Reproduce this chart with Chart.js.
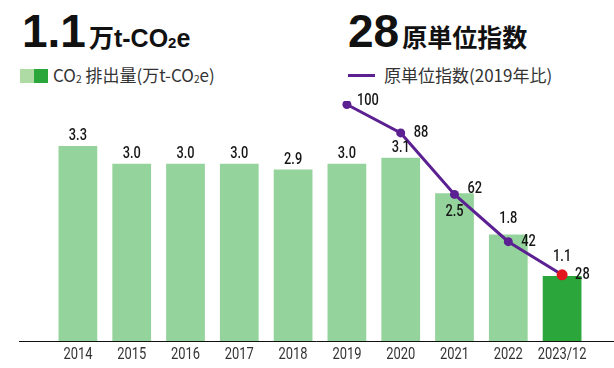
<!DOCTYPE html>
<html lang="ja">
<head>
<meta charset="utf-8">
<script src="https://cdn.jsdelivr.net/npm/chart.js"></script>
<style>
  body { margin: 0; background: #fff; font-family: 'Liberation Sans', 'Noto Sans CJK JP', sans-serif; }
  #wrap { position: relative; width: 614px; height: 368px; overflow: hidden; }
  #chartBox { position: absolute; left: 0; top: 0; width: 614px; height: 368px; }
  .head { position: absolute; top: 4px; font-weight: bold; color: #111; white-space: nowrap; }
  .head .num { font-size: 46px; margin-right: 3px; }
  .head .unit { font-size: 25px; }
  .legend { position: absolute; top: 62px; font-size: 17px; color: #333; white-space: nowrap; font-family: 'Noto Sans CJK JP', sans-serif; }
  .sw { display: inline-block; width: 14px; height: 14px; vertical-align: -1px; }
  .ln { display: inline-block; width: 27px; height: 3px; background: #5b2091; vertical-align: 5px; margin-right: 9px; }
  sub { font-size: 0.6em; vertical-align: -0.05em; }
</style>
</head>
<body>
<div id="wrap">
  <div class="head" style="left:22px"><span class="num">1.1</span><span class="unit">万t-CO<sub>2</sub>e</span></div>
  <div class="head" style="left:348px"><span class="num">28</span><span class="unit">原単位指数</span></div>
  <div class="legend" style="left:20px"><span class="sw" style="background:#aedaa4"></span><span class="sw" style="background:#2aa63a;margin-right:5px"></span>CO<sub>2</sub> 排出量(万t-CO<sub>2</sub>e)</div>
  <div class="legend" style="left:348px"><span class="ln"></span>原単位指数(2019年比)</div>
  <div id="chartBox"><canvas id="chart"></canvas></div>
</div>
<script>
const years = ['2014', '2015', '2016', '2017', '2018', '2019', '2020', '2021', '2022', '2023/12'];
const emissions = [3.3, 3.0, 3.0, 3.0, 2.9, 3.0, 3.1, 2.5, 1.8, 1.1];
const intensity = [null, null, null, null, null, 100, 88, 62, 42, 28];

const LIGHT = '#95d39c';
const DARK = '#2aa63a';
const PURPLE = '#5b2091';
const RED = '#e3161f';

// narrow digits: Roboto squeezed horizontally
function narrowText(ctx, text, x, y, font, sx, align) {
  ctx.save();
  ctx.font = font + ' Roboto, sans-serif';
  ctx.textBaseline = 'middle';
  ctx.textAlign = align;
  ctx.translate(x, y);
  ctx.scale(sx, 1);
  ctx.fillText(text, 0, 0);
  ctx.restore();
}

// baseline line under the bars, running past the plot area on both sides
const baseLine = {
  id: 'baseLine',
  afterDatasetsDraw(chart) {
    const { ctx, chartArea } = chart;
    ctx.save();
    ctx.strokeStyle = '#111';
    ctx.lineWidth = 1;
    ctx.beginPath();
    ctx.moveTo(19, Math.round(chartArea.bottom) + 0.5);
    ctx.lineTo(chart.width, Math.round(chartArea.bottom) + 0.5);
    ctx.stroke();
    ctx.restore();
  }
};

// category labels plus value labels for bars and line points
const valueLabels = {
  id: 'valueLabels',
  afterDatasetsDraw(chart) {
    const { ctx, chartArea } = chart;
    const xScale = chart.scales.x;

    ctx.fillStyle = '#333';
    years.forEach((yr, i) => {
      narrowText(ctx, yr, xScale.getPixelForValue(i), chartArea.bottom + 14, '17px', 0.76, 'center');
    });

    ctx.fillStyle = '#151515';
    const bars = chart.getDatasetMeta(0).data;
    bars.forEach((bar, i) => {
      let y = bar.y - 10;
      if (years[i] === '2021') y = bar.y + 19;   // sits inside the bar, under the line
      if (years[i] === '2022') y = bar.y - 16;
      if (years[i] === '2023/12') y = bar.y - 19;
      narrowText(ctx, emissions[i].toFixed(1), bar.x, y, '500 16px', 0.8, 'center');
    });

    const pts = chart.getDatasetMeta(1).data;
    pts.forEach((pt, i) => {
      if (intensity[i] == null) return;
      const dx = intensity[i] === 100 ? 10 : 13;
      const dy = intensity[i] === 62 ? -5 : (intensity[i] === 100 ? -4 : 0);
      narrowText(ctx, String(intensity[i]), pt.x + dx, pt.y + dy, '500 16px', 0.8, 'left');
    });
  }
};

new Chart(document.getElementById('chart'), {
  type: 'bar',
  data: {
    labels: years,
    datasets: [
      {
        label: 'CO2 排出量(万t-CO2e)',
        data: emissions,
        backgroundColor: emissions.map((v, i) => i === emissions.length - 1 ? DARK : LIGHT),
        barPercentage: 0.8,
        categoryPercentage: 0.9,
        yAxisID: 'y',
        order: 1
      },
      {
        type: 'line',
        label: '原単位指数(2019年比)',
        data: intensity,
        borderColor: PURPLE,
        borderWidth: 3,
        pointRadius: intensity.map((v, i) => i === intensity.length - 1 ? 5.5 : 4.5),
        pointBackgroundColor: intensity.map((v, i) => i === intensity.length - 1 ? RED : PURPLE),
        pointBorderWidth: 0,
        yAxisID: 'y2',
        order: 0
      }
    ]
  },
  options: {
    responsive: true,
    maintainAspectRatio: false,
    animation: false,
    layout: { padding: { left: 51, right: 25, top: 101, bottom: 0 } },
    plugins: { legend: { display: false }, tooltip: { enabled: false } },
    scales: {
      x: {
        grid: { display: false, drawTicks: false },
        border: { display: false },
        ticks: { display: false },
        afterFit(scale) { scale.height = 27; }
      },
      y: { display: false, min: 0, max: 4.06 },
      y2: { display: false, min: 0, max: 101.5, position: 'right' }
    }
  },
  plugins: [baseLine, valueLabels]
});
</script>
</body>
</html>
